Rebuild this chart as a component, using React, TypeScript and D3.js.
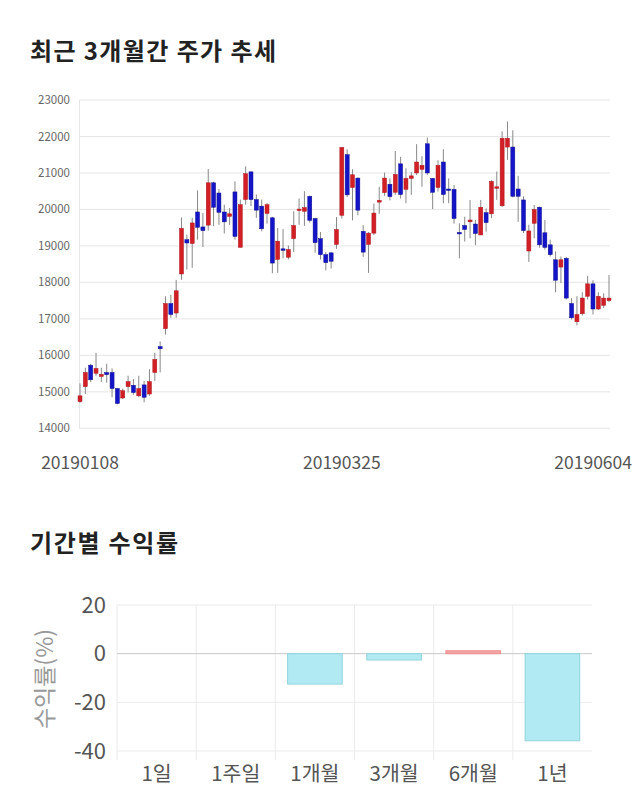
import React from "react";
import * as d3 from "d3";

const openP = [14730,15140,15730,15510,15420,15530,15530,15090,14830,15140,15180,14890,15190,14940,15530,16240,16730,17420,17160,18230,
19170,19065,19930,19520,19570,20730,20450,19930,19810,20480,18960,20270,21030,20270,20090,19890,19770,18630,18920,18690,
19200,20000,19950,20360,19750,19200,18760,18810,19040,19840,21500,20600,20860,19400,19040,19350,20200,20460,20690,20470,
21250,20550,20850,21000,21100,21800,20850,20600,21300,20560,20550,19370,19560,19660,19600,19300,19910,19880,20600,20100,
21710,21710,20560,20260,18860,19620,20060,19360,19030,18620,18420,18660,17420,16920,17140,17620,17960,17270,17370,17500];
const highP = [15230,15660,15770,16070,15660,15770,15640,15100,15090,15440,15350,15440,15300,15620,16070,16380,17620,17660,18070,19780,
19310,19770,20520,19900,21110,20760,20560,20130,20040,20770,20270,21180,21040,20410,20270,20180,19800,19490,19460,19010,
19950,20300,20500,20380,19770,19380,18830,18820,19790,21700,21650,21100,20870,19570,19380,20160,20620,21010,20850,21600,
21440,21130,21030,21790,21460,21970,20860,21350,21650,20850,20670,19620,19800,20260,19710,20260,20030,20800,21040,22140,
22410,22170,20920,20360,19580,20120,20080,19710,19170,18850,18710,18700,17570,17620,17730,18180,18060,17730,17700,18200];
const lowP = [14700,14940,15270,15440,15270,15250,14850,14660,14800,14980,14920,14850,14710,14890,15300,15530,16570,17030,17030,18070,
18350,18400,19170,18970,19420,19540,19580,19340,19570,19170,18960,20130,20090,19770,19400,19610,18250,18260,18660,18630,
18830,19580,19550,19640,18810,18630,18330,18380,18920,19750,20340,19700,19840,18700,18260,19300,19880,20370,20250,20400,
20300,20170,20400,20940,20620,20940,20010,20490,20170,20170,19610,18660,19120,19210,19020,19300,19390,19760,20260,20070,
21360,20330,19660,19350,18560,19210,18950,18900,18710,17730,17980,17530,16980,16820,17090,17530,17120,17250,17300,17460];
const closeP = [14890,15530,15330,15640,15480,15470,15090,14680,15030,15280,14980,15090,14850,15280,15890,16180,17420,17120,17770,19480,
19080,19630,19510,19420,20730,20060,19920,19660,19880,19260,20130,20980,20270,19980,19470,20130,18530,19130,18890,18900,
19560,20010,20050,19700,19090,18760,18540,18580,19450,21700,20400,20950,19980,18830,19350,19900,20250,20860,20350,20960,
20410,20850,20920,21300,21210,21000,20470,21210,20410,20550,19750,19350,19450,19710,19340,20060,19640,20770,20620,21950,
21950,20360,20360,19420,19410,20000,19030,18960,18760,18060,18620,17570,17030,17120,17570,17960,17270,17620,17570,17570];

const priceTicks = [14000,15000,16000,17000,18000,19000,20000,21000,22000,23000];
const dateTickLabels = ["20190108", "20190325", "20190604"];
const dateTickIndex = [0, 49, 99];

const periods = ["1일", "1주일", "1개월", "3개월", "6개월", "1년"];
const returns = [0, 0, -12.5, -2.6, 1.2, -35.8];
const returnTicks = [20, 0, -20, -40];

const FONT = "'Noto Sans CJK KR', 'Noto Sans', sans-serif";

export default function App() {
  const x = d3.scaleLinear().domain([0, openP.length - 1]).range([80, 609]);
  const y = d3.scaleLinear().domain([14000, 23000]).range([428.3, 100]);
  const bodyW = 4;

  const bx = d3.scaleBand<string>().domain(periods).range([117, 592]).paddingInner(0.31).paddingOuter(0.155);
  const by = d3.scaleLinear().domain([-40, 20]).range([751, 605]);
  const gridXs = d3.range(periods.length).map((i) => 117 + i * (475 / periods.length));

  return (
    <svg width={640} height={810} style={{ position: "absolute", left: 0, top: 0, background: "#fff" }} fontFamily={FONT}>
      <text x={30} y={60} fontSize={24} fontWeight={700} fill="#222" textLength={246} lengthAdjust="spacing">최근 3개월간 주가 추세</text>

      {priceTicks.map((t) => (
        <g key={t}>
          <line x1={79} x2={610} y1={y(t)} y2={y(t)} stroke="#e6e6e6" strokeWidth={1} />
          <text x={70} y={y(t)} dy="0.35em" textAnchor="end" fontSize={11.5} fill="#666">{t}</text>
        </g>
      ))}
      <line x1={79.5} x2={79.5} y1={y(23000)} y2={y(14000)} stroke="#e6e6e6" />

      {openP.map((o, i) => {
        const c = closeP[i];
        const up = c >= o;
        const col = up ? "#d21f26" : "#1414c8";
        const top = y(Math.max(o, c));
        const h = Math.max(1.5, y(Math.min(o, c)) - top);
        return (
          <g key={i}>
            <line x1={x(i)} x2={x(i)} y1={y(highP[i])} y2={y(lowP[i])} stroke="#888" strokeWidth={1} />
            <rect x={x(i) - bodyW / 2} y={top} width={bodyW} height={h} fill={col} stroke={up ? "#b01a20" : "#101090"} strokeWidth={0.5} />
          </g>
        );
      })}

      {dateTickLabels.map((lbl, k) => {
        const last = k === dateTickLabels.length - 1;
        return (
          <text key={lbl} x={last ? 632 : x(dateTickIndex[k])} y={469} textAnchor={last ? "end" : "middle"} fontSize={17.5} fill="#555">{lbl}</text>
        );
      })}

      <text x={30} y={552} fontSize={24} fontWeight={700} fill="#222" textLength={148} lengthAdjust="spacing">기간별 수익률</text>

      {gridXs.map((gx, i) => (
        <line key={i} x1={gx} x2={gx} y1={605} y2={760} stroke="#ebebeb" />
      ))}
      {returnTicks.map((t) => (
        <g key={t}>
          <line x1={117} x2={592} y1={by(t)} y2={by(t)} stroke={t === 0 ? "#c8c8c8" : "#ebebeb"} />
          <text x={106} y={by(t)} dy="0.35em" textAnchor="end" fontSize={22} fill="#555">{t}</text>
        </g>
      ))}
      {periods.map((p, i) => {
        const v = returns[i];
        if (v === 0) return null;
        const pos = v > 0;
        const top = by(Math.max(0, v));
        const h = Math.abs(by(v) - by(0));
        return (
          <rect key={p} x={bx(p)} y={top} width={bx.bandwidth()} height={h}
            fill={pos ? "#f6a5a5" : "#b1eaf3"} stroke={pos ? "#ee8c8c" : "#93d3dd"} strokeWidth={1} />
        );
      })}
      {periods.map((p) => (
        <text key={p} x={(bx(p) as number) + bx.bandwidth() / 2} y={781} textAnchor="middle" fontSize={20.5} fill="#555">{p}</text>
      ))}
      <text transform="translate(53,679) rotate(-90)" textAnchor="middle" fontSize={23} fill="#999">수익률(%)</text>
    </svg>
  );
}
